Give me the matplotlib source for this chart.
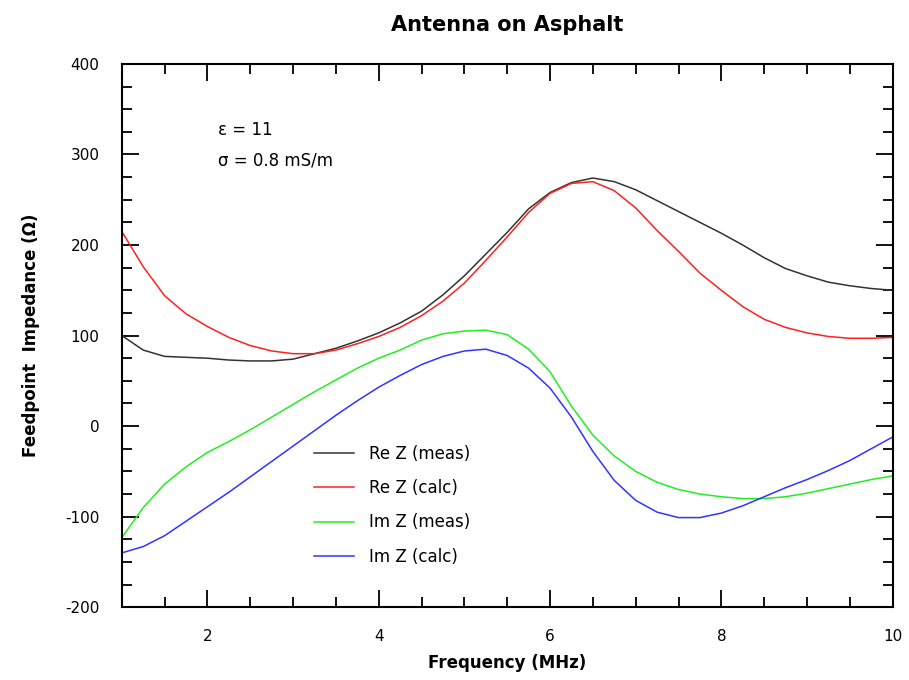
import matplotlib
matplotlib.use("Agg")
import matplotlib.pyplot as plt
from matplotlib.ticker import MultipleLocator

plt.rcParams['axes.unicode_minus'] = False

# frequency points (MHz) and impedances (ohm)
freq = [1.0, 1.25, 1.5, 1.75, 2.0, 2.25, 2.5, 2.75, 3.0, 3.25, 3.5, 3.75, 4.0, 4.25,
        4.5, 4.75, 5.0, 5.25, 5.5, 5.75, 6.0, 6.25, 6.5, 6.75, 7.0, 7.25, 7.5, 7.75,
        8.0, 8.25, 8.5, 8.75, 9.0, 9.25, 9.5, 9.75, 10.0]

re_meas = [100, 84, 77, 76, 75, 73, 72, 72, 74, 80, 86, 94, 103, 114,
           127, 145, 166, 190, 214, 240, 258, 269, 274, 270, 261, 249, 237, 225,
           213, 200, 186, 174, 166, 159, 155, 152, 150]

re_calc = [215, 176, 144, 124, 110, 98, 89, 83, 80, 80, 84, 91, 99, 109,
           122, 138, 158, 183, 209, 236, 257, 268, 270, 260, 241, 216, 193, 169,
           150, 132, 118, 109, 103, 99, 97, 97, 98]

im_meas = [-123, -90, -64, -45, -29, -17, -4, 10, 24, 38, 51, 64, 75, 84,
           95, 102, 105, 106, 101, 85, 60, 22, -10, -33, -50, -62, -70, -75,
           -78, -80, -80, -78, -74, -69, -64, -59, -55]

im_calc = [-140, -133, -121, -105, -89, -73, -56, -39, -22, -5, 12, 28, 43, 56,
           68, 77, 83, 85, 78, 64, 42, 10, -28, -60, -82, -95, -101, -101,
           -96, -88, -78, -68, -59, -49, -38, -25, -12]

labels = ['Re Z (meas)', 'Re Z (calc)', 'Im Z (meas)', 'Im Z (calc)']
colors = ['#333333', '#ff2020', '#22ee22', '#3333ff']

fig = plt.figure(figsize=(9.09, 6.8), dpi=100)
ax = fig.add_axes([0.134, 0.107, 0.848, 0.799])

for vals, c, lab in zip([re_meas, re_calc, im_meas, im_calc], colors, labels):
    ax.plot(freq, vals, color=c, lw=1.1, label=lab)

ax.set_xlim(1, 10)
ax.set_ylim(-200, 400)
ax.xaxis.set_major_locator(MultipleLocator(2))
ax.xaxis.set_minor_locator(MultipleLocator(0.5))
ax.yaxis.set_major_locator(MultipleLocator(100))
ax.yaxis.set_minor_locator(MultipleLocator(25))
ax.tick_params(which='both', direction='in', top=True, right=True, labelsize=11, width=1.3)
ax.tick_params(which='major', length=12, pad=16)
ax.tick_params(which='minor', length=7)
for sp in ax.spines.values():
    sp.set_linewidth(1.5)

ax.set_xlabel('Frequency (MHz)', fontsize=12, fontweight='bold', labelpad=7)
ax.set_ylabel('Feedpoint  Impedance (Ω)', fontsize=12, fontweight='bold', labelpad=18)
ax.set_title('Antenna on Asphalt', fontsize=15, fontweight='bold', pad=24)

ax.text(0.125, 0.870, 'ε = 11', transform=ax.transAxes, fontsize=12)
ax.text(0.125, 0.813, 'σ = 0.8 mS/m', transform=ax.transAxes, fontsize=12)

ax.legend(loc='upper left', bbox_to_anchor=(0.23, 0.326), frameon=False, fontsize=12,
          handlelength=2.4, labelspacing=0.97, handletextpad=0.9)

fig.savefig('out.png', dpi=100)
